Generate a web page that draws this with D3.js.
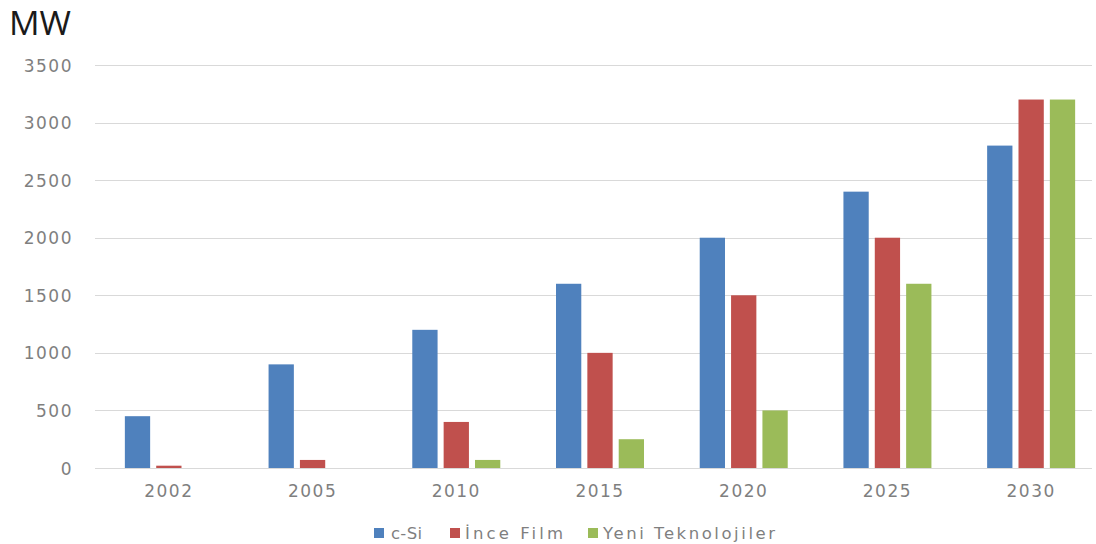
<!DOCTYPE html>
<html><head><meta charset="utf-8">
<script src="https://cdn.jsdelivr.net/npm/d3@7"></script>
<style>body{margin:0;background:#fff}</style>
</head><body>
<svg id="c" width="1096" height="544"></svg>
<script>
const categories = ["2002","2005","2010","2015","2020","2025","2030"];
const seriesNames = ["c-Si","İnce Film","Yeni Teknolojiler"];
const cSi = [450, 900, 1200, 1600, 2000, 2400, 2800];
const inceFilm = [20, 70, 400, 1000, 1500, 2000, 3200];
const yeniTek = [0, 0, 70, 250, 500, 1600, 3200];
const yTicks = [0, 500, 1000, 1500, 2000, 2500, 3000, 3500];
const colors = ["#4F81BD", "#C0504D", "#9BBB59"];
const seriesValues = [cSi, inceFilm, yeniTek];

const svg = d3.select("#c");
const x0 = d3.scaleBand().domain(categories).range([97, 1103]).padding(0);
const x1 = d3.scaleBand().domain(seriesNames).range([-44, 44]).paddingInner(0.1935).paddingOuter(0);
const y = d3.scaleLinear().domain([0, 3500]).range([468, 65]);

// gridlines
svg.append("g").selectAll("line").data(yTicks).join("line")
  .attr("x1", 95).attr("x2", 1092)
  .attr("y1", d => Math.round(y(d)) + 0.5).attr("y2", d => Math.round(y(d)) + 0.5)
  .attr("stroke", "#d9d9d9").attr("stroke-width", 1);

// y labels
const yAxis = d3.axisLeft(y).tickValues(yTicks).tickFormat(d3.format("d")).tickSize(0).tickPadding(0);
const gy = svg.append("g").attr("transform", "translate(73,0)").call(yAxis);
gy.select(".domain").remove();
gy.selectAll("text").attr("font-family", "DejaVu Sans").attr("font-size", 17)
  .attr("fill", "#7f7f7f").attr("letter-spacing", "1.5px").attr("dy", "0.36em");

// x labels
const xAxis = d3.axisBottom(x0).tickSize(0).tickPadding(0);
const gx = svg.append("g").attr("transform", "translate(0,485)").call(xAxis);
gx.select(".domain").remove();
gx.selectAll("text").attr("font-family", "DejaVu Sans").attr("font-size", 17)
  .attr("fill", "#7f7f7f").attr("letter-spacing", "1.5px").attr("dy", "0.71em");

// bars
seriesNames.forEach((s, si) => {
  svg.append("g").selectAll("rect").data(categories).join("rect")
    .attr("x", c => x0(c) + x0.bandwidth() / 2 + x1(s))
    .attr("width", x1.bandwidth())
    .attr("y", (c, i) => y(seriesValues[si][i]))
    .attr("height", (c, i) => y(0) - y(seriesValues[si][i]))
    .attr("fill", colors[si]);
});

// MW title
svg.append("text").attr("x", 9).attr("y", 35).text("MW")
  .attr("font-family", "Open Sans").attr("font-size", 32).attr("fill", "#1a1a1a")
  .attr("textLength", 62).attr("lengthAdjust", "spacingAndGlyphs");

// legend
const legendSq = [374, 450, 588];
const legendTx = [391, 465, 603];
const legendW = [31, 98, 172];
seriesNames.forEach((s, i) => {
  svg.append("rect").attr("x", legendSq[i]).attr("y", 528).attr("width", 10).attr("height", 10).attr("fill", colors[i]);
  svg.append("text").attr("x", legendTx[i]).attr("y", 539).text(s)
    .attr("font-family", "DejaVu Sans").attr("font-size", 16.5).attr("fill", "#7f7f7f")
    .attr("textLength", legendW[i]).attr("lengthAdjust", "spacing");
});
</script>
</body></html>
